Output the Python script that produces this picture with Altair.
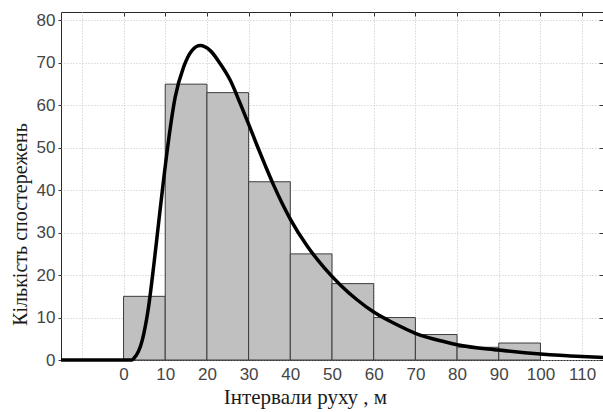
import altair as alt
import pandas as pd

# Histogram bins (m) and observation counts
bin_start = [0, 10, 20, 30, 40, 50, 60, 70, 80, 90]
bin_end = [10, 20, 30, 40, 50, 60, 70, 80, 90, 100]
counts = [15, 65, 63, 42, 25, 18, 10, 6, 3, 4]

# Fitted curve
curve_x = [-15, 0, 2, 2.5, 4.5, 6, 7.3, 8.4, 9.6, 10.8, 12.4, 14.4, 16.4, 18.4,
           20.8, 23.2, 25.6, 28, 30, 32, 34, 36, 38, 40, 44, 48, 52, 56, 60,
           65, 70, 77, 80, 90, 100, 110, 115]
curve_y = [0, 0, 0, 0.4, 4.7, 12.5, 22.7, 32.2, 42.4, 51.8, 62, 69, 72.9, 74.1,
           72.9, 69.8, 65.9, 60.4, 55.6, 50.6, 45.8, 41.2, 37.0, 33.2, 26.9,
           21.9, 17.7, 14.2, 11.3, 8.6, 6.3, 4.3, 3.6, 2.35, 1.4, 0.8, 0.6]

x_ticks = [-10, 0, 10, 20, 30, 40, 50, 60, 70, 80, 90, 100, 110]
x_top_ticks = [0, 10, 20, 30, 40, 50, 60, 70, 80, 90, 100, 110]
y_ticks = [0, 10, 20, 30, 40, 50, 60, 70, 80]

bars_df = pd.DataFrame({"start": bin_start, "end": bin_end, "count": counts})
curve_df = pd.DataFrame({"cx": curve_x, "cy": curve_y})

xscale = alt.Scale(domain=[-15, 115], nice=False, zero=False)
yscale = alt.Scale(domain=[0, 82], nice=False)

label_font = "Liberation Sans"
title_font = "Liberation Serif"

x_bottom = alt.Axis(
    values=x_ticks,
    labelExpr="datum.value < 0 ? '' : datum.label",
    ticks=False, domain=False,
    grid=True, gridColor="#c4c4c4", gridDash=[1, 2], gridWidth=1,
    labelFont=label_font, labelFontSize=17, labelColor="#454545",
    labelPadding=6,
    title="Інтервали руху , м",
    titleFont=title_font, titleFontSize=21, titleFontWeight="normal",
    titleColor="#1a1a1a", titleX=244, titleY=43, titleBaseline="alphabetic",
)
y_left = alt.Axis(
    values=y_ticks,
    ticks=True, tickSize=3, tickColor="#333333", domain=False,
    grid=True, gridColor="#c4c4c4", gridDash=[1, 2], gridWidth=1,
    labelFont=label_font, labelFontSize=17, labelColor="#454545",
    labelPadding=3,
    title="Кількість спостережень",
    titleFont=title_font, titleFontSize=20, titleFontWeight="normal",
    titleColor="#1a1a1a", titleX=-35, titleY=212, titleBaseline="alphabetic",
)
x_top = alt.Axis(
    orient="top", values=x_top_ticks, labels=False, title=None, grid=False,
    domain=False, ticks=True, tickSize=4, tickColor="#333333", offset=-4,
)
y_right = alt.Axis(
    orient="right", values=y_ticks, labels=False, title=None, grid=False,
    domain=False, ticks=True, tickSize=4, tickColor="#333333", offset=-4,
)

bars = alt.Chart(bars_df).mark_rect(
    fill="#c0c0c0", stroke="#3c3c3c", strokeWidth=1
).encode(
    x=alt.X("start:Q", scale=xscale, axis=x_bottom),
    x2="end:Q",
    y=alt.Y("count:Q", scale=yscale, axis=y_left),
    y2=alt.datum(0),
)

curve = alt.Chart(curve_df).mark_line(
    color="#000000", strokeWidth=3.5, interpolate="monotone"
).encode(
    x=alt.X("cx:Q", scale=xscale, axis=x_top),
    y=alt.Y("cy:Q", scale=yscale, axis=y_right),
)

chart = alt.layer(bars, curve).resolve_axis(
    x="independent", y="independent"
).properties(
    width=542, height=348,
    autosize=alt.AutoSizeParams(type="none"),
    padding={"left": 61, "top": 12, "right": 0, "bottom": 52},
    background="white",
).configure_view(stroke="#2a2a2a", strokeWidth=1)

chart.save("out.html", embed_options={"renderer": "svg", "actions": False})
